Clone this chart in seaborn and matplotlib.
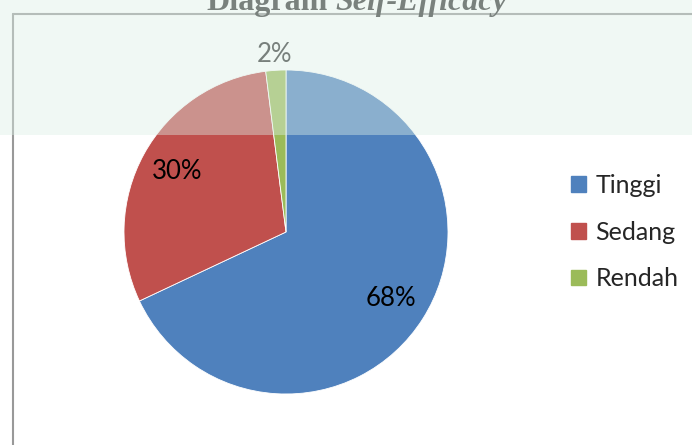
import matplotlib
matplotlib.use("Agg")
import matplotlib.pyplot as plt
import matplotlib.patches as mpatches
import numpy as np
import seaborn as sns

# %%--  Data
categories = ["Tinggi", "Sedang", "Rendah"]
shares = [68, 30, 2]
colors = ["#4F81BD", "#C0504D", "#9BBB59"]
# %%-

# %%--  Style
sns.set_theme(style="white")
plt.rcParams['font.family'] = ['Lato', 'DejaVu Sans']
W, H = 692, 445
fig = plt.figure(figsize=(W / 100, H / 100), dpi=100)
fig.patch.set_facecolor("white")
# %%-

# %%--  Pie
cx, cy, r = 286, 232, 162
ax = fig.add_axes([(cx - r) / W, (H - cy - r) / H, 2 * r / W, 2 * r / H])
wedges, texts, autotexts = ax.pie(
    shares,
    colors=colors,
    startangle=90,
    counterclock=False,
    autopct="%d%%",
    pctdistance=0.77,
    wedgeprops=dict(linewidth=0.6, edgecolor="white"),
    textprops=dict(fontsize=18.5, color="black"),
)
ax.set_xlim(-1, 1)
ax.set_ylim(-1, 1)
ax.set_aspect("equal")
ax.axis("off")

# small slice label sits outside the pie
w = wedges[2]
ang = np.deg2rad((w.theta1 + w.theta2) / 2)
autotexts[2].set_position((1.10 * np.cos(ang), 1.10 * np.sin(ang)))
autotexts[2].set_color("#303030")
# %%-

# %%--  Legend
handles = [mpatches.Patch(color=c, label=l) for c, l in zip(colors, categories)]
fig.legend(handles=handles, loc="center left",
           bbox_to_anchor=(571 / W, 1 - 232 / H),
           frameon=False, fontsize=18, borderpad=0, borderaxespad=0,
           handlelength=0.6, handleheight=0.6, handletextpad=0.38,
           labelspacing=0.95)
# %%-

# %%--  Frame, title and page overlay
fig.add_artist(plt.Line2D([13 / W, 13 / W], [0, 1 - 14 / H], color="#999999", lw=1.5))
fig.add_artist(plt.Line2D([13 / W, 1], [1 - 14 / H, 1 - 14 / H], color="#999999", lw=1.5))

ty = 1 - 10 / H
fig.text(328 / W, ty, "Diagram", ha="right", va="baseline", fontsize=23,
         family="Liberation Serif", weight="bold", color="#333333")
fig.text(335 / W, ty, "Self-Efficacy", ha="left", va="baseline", fontsize=23,
         family="Liberation Serif", weight="bold", style="italic", color="#333333")

fig.add_artist(mpatches.Rectangle((0, 1 - 135 / H), 1, 135 / H,
                                  transform=fig.transFigure,
                                  facecolor="#dcefe6", alpha=0.42,
                                  edgecolor="none", zorder=10))
# %%-

fig.savefig("out.png", dpi=100)
